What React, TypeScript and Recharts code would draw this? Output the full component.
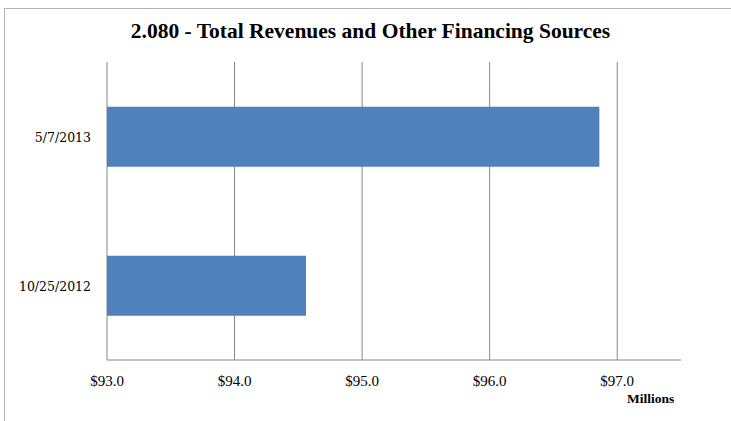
import React from "react";
import { BarChart, Bar, XAxis, YAxis, CartesianGrid } from "recharts";

const dates = ["5/7/2013", "10/25/2012"];
const revenues = [96.86, 94.56];
const xTicks = [93, 94, 95, 96, 97];
const bandTicks = [0, 1, 2];

const data = dates.map((d, i) => ({ date: d, value: revenues[i] }));

const serif = "'Liberation Serif', serif";

const MoneyTick = ({ x, y, payload }: any) => (
  <text x={x} y={y + 18} textAnchor="middle" fontFamily={serif} fontSize={15} fill="#000">
    {`$${Number(payload.value).toFixed(1)}`}
  </text>
);

const DateTick = ({ x, y, payload }: any) => (
  <text x={x - 8} y={y + 5} textAnchor="end" fontFamily="'DejaVu Serif', serif" fontSize={12.5} fill="#000">
    {payload.value}
  </text>
);

const NoLabel = () => <g />;

const App: React.FC = () => {
  return (
    <div style={{ position: "absolute", left: 0, top: 0, width: 731, height: 421, background: "#fff" }}>
      <div
        style={{
          position: "absolute",
          left: 4,
          top: 8,
          width: 727,
          height: 413,
          borderLeft: "1.5px solid #b3b3b3",
          borderTop: "1.5px solid #b3b3b3",
        }}
      />
      <div
        style={{
          position: "absolute",
          left: 5,
          top: 19,
          width: 731,
          textAlign: "center",
          fontFamily: serif,
          fontWeight: "bold",
          fontSize: 21.5,
          color: "#000",
        }}
      >
        2.080 - Total Revenues and Other Financing Sources
      </div>
      <div
        style={{
          position: "absolute",
          left: 627,
          top: 391,
          fontFamily: serif,
          fontWeight: "bold",
          fontSize: 13.5,
          color: "#000",
        }}
      >
        Millions
      </div>
      <BarChart
        width={731}
        height={421}
        data={data}
        layout="vertical"
        margin={{ top: 62, right: 50, bottom: 31, left: 0 }}
        barCategoryGap="30%"
        style={{ position: "absolute", left: 0, top: 0 }}
      >
        <CartesianGrid horizontal={false} verticalValues={xTicks} stroke="#868686" strokeWidth={1} />
        <XAxis
          type="number"
          domain={[93, 97.5]}
          ticks={xTicks}
          allowDataOverflow
          tickLine={false}
          axisLine={{ stroke: "#868686" }}
          height={30}
          tick={<MoneyTick />}
        />
        <YAxis
          yAxisId="bands"
          type="number"
          domain={[0, 2]}
          ticks={bandTicks}
          tick={<NoLabel />}
          tickSize={5}
          width={0}
          axisLine={{ stroke: "#868686" }}
          tickLine={{ stroke: "#868686" }}
        />
        <YAxis
          yAxisId="cat"
          type="category"
          dataKey="date"
          width={107}
          axisLine={false}
          tickLine={false}
          tick={<DateTick />}
        />
        <Bar yAxisId="cat" dataKey="value" fill="#4F81BD" isAnimationActive={false} />
      </BarChart>
    </div>
  );
};

export default App;
